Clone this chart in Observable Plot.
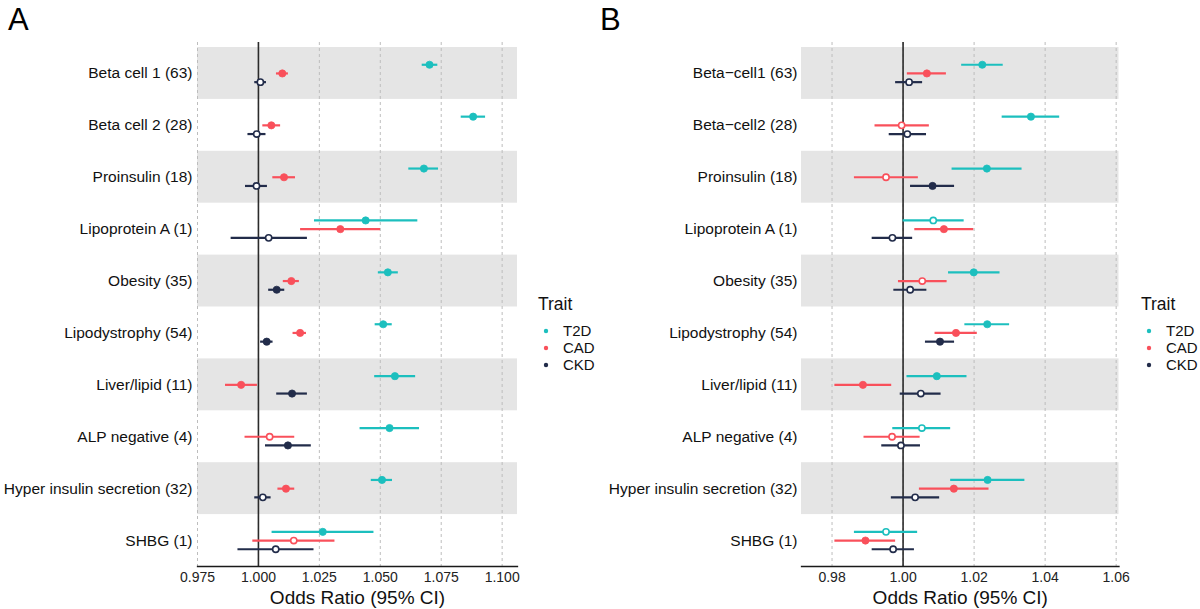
<!DOCTYPE html>
<html>
<head>
<meta charset="utf-8">
<script src="https://cdn.jsdelivr.net/npm/d3@7"></script>
<script src="https://cdn.jsdelivr.net/npm/@observablehq/plot@0.6"></script>
<style>
  html, body { margin: 0; padding: 0; background: #fff; }
  #root { position: relative; width: 1200px; height: 609px; overflow: hidden; font-family: "Liberation Sans", Arial, Helvetica, sans-serif; }
  .pane { position: absolute; top: 0; }
  .letter { position: absolute; font-size: 31px; color: #000; line-height: 1; }
</style>
</head>
<body>
<div id="root"></div>
<script>
// ---------------- data ----------------
const traits = ["T2D", "CAD", "CKD"];
const traitColors = ["#1CBFBE", "#F9505B", "#222C4A"];

const categoriesA = [
  "Beta cell 1 (63)", "Beta cell 2 (28)", "Proinsulin (18)", "Lipoprotein A (1)", "Obesity (35)",
  "Lipodystrophy (54)", "Liver/lipid (11)", "ALP negative (4)", "Hyper insulin secretion (32)", "SHBG (1)"
];
const categoriesB = [
  "Beta\u2212cell1 (63)", "Beta\u2212cell2 (28)", "Proinsulin (18)", "Lipoprotein A (1)", "Obesity (35)",
  "Lipodystrophy (54)", "Liver/lipid (11)", "ALP negative (4)", "Hyper insulin secretion (32)", "SHBG (1)"
];

const ticksA = [0.975, 1.000, 1.025, 1.050, 1.075, 1.100];
const ticksB = [0.98, 1.00, 1.02, 1.04, 1.06];

// [odds ratio, lower CI, upper CI, significant (1 = filled dot)]
const A_T2D = [
  [1.0702, 1.0672, 1.0736, 1], [1.0881, 1.0832, 1.0932, 1], [1.0679, 1.0617, 1.0739, 1],
  [1.0440, 1.0230, 1.0654, 1], [1.0531, 1.0492, 1.0574, 1], [1.0512, 1.0479, 1.0549, 1],
  [1.0560, 1.0477, 1.0645, 1], [1.0538, 1.0417, 1.0661, 1], [1.0507, 1.0463, 1.0550, 1],
  [1.0264, 1.0056, 1.0474, 1]
];
const A_CAD = [
  [1.0098, 1.0074, 1.0123, 1], [1.0053, 1.0018, 1.0091, 1], [1.0105, 1.0059, 1.0152, 1],
  [1.0336, 1.0173, 1.0501, 1], [1.0135, 1.0102, 1.0168, 1], [1.0171, 1.0142, 1.0197, 1],
  [0.9929, 0.9865, 0.9996, 1], [1.0046, 0.9945, 1.0149, 0], [1.0113, 1.0080, 1.0149, 1],
  [1.0145, 0.9977, 1.0314, 0]
];
const A_CKD = [
  [1.0008, 0.9985, 1.0033, 0], [0.9993, 0.9957, 1.0031, 0], [0.9992, 0.9947, 1.0037, 0],
  [1.0042, 0.9888, 1.0201, 0], [1.0075, 1.0042, 1.0108, 1], [1.0034, 1.0009, 1.0060, 1],
  [1.0138, 1.0075, 1.0201, 1], [1.0121, 1.0029, 1.0217, 1], [1.0018, 0.9985, 1.0052, 0],
  [1.0071, 0.9916, 1.0228, 0]
];

const B_T2D = [
  [1.0223, 1.0165, 1.0282, 1], [1.0360, 1.0279, 1.0441, 1], [1.0236, 1.0138, 1.0335, 1],
  [1.0085, 1.0000, 1.0172, 0], [1.0199, 1.0128, 1.0273, 1], [1.0237, 1.0174, 1.0300, 1],
  [1.0095, 1.0011, 1.0180, 1], [1.0053, 0.9971, 1.0134, 0], [1.0238, 1.0134, 1.0343, 1],
  [0.9952, 0.9863, 1.0041, 0]
];
const B_CAD = [
  [1.0067, 1.0012, 1.0122, 1], [0.9996, 0.9921, 1.0074, 0], [0.9952, 0.9863, 1.0043, 0],
  [1.0115, 1.0033, 1.0199, 1], [1.0054, 0.9987, 1.0124, 0], [1.0149, 1.0090, 1.0209, 1],
  [0.9887, 0.9808, 0.9968, 1], [0.9969, 0.9890, 1.0048, 0], [1.0143, 1.0046, 1.0242, 1],
  [0.9894, 0.9808, 0.9979, 1]
];
const B_CKD = [
  [1.0017, 0.9979, 1.0055, 0], [1.0012, 0.9961, 1.0066, 0], [1.0083, 1.0021, 1.0145, 1],
  [0.9970, 0.9913, 1.0027, 0], [1.0020, 0.9974, 1.0067, 0], [1.0104, 1.0063, 1.0145, 1],
  [1.0050, 0.9992, 1.0107, 0], [0.9994, 0.9940, 1.0049, 0], [1.0034, 0.9967, 1.0103, 0],
  [0.9972, 0.9913, 1.0032, 0]
];

const panelLetters = ["A", "B"];
const axisTitle = "Odds Ratio (95% CI)";
const legendTitle = "Trait";

// ---------------- drawing ----------------
const root = document.getElementById("root");
const FONT = '"Liberation Sans", Arial, Helvetica, sans-serif';
const offsets = [-8.7, 0, 8.7];

function panel(cats, series, ticks, fmt, domain, opts) {
  const rows = [];
  traits.forEach((t, ti) => series[ti].forEach((v, i) => rows.push({
    cat: cats[i], trait: t, ti, or: v[0], lo: v[1], hi: v[2], filled: v[3] === 1
  })));
  const marks = [
    Plot.barX(cats.filter((c, i) => i % 2 === 0), {x1: domain[0], x2: domain[1], y: d => d, fill: "#E5E5E5"}),
    Plot.ruleX(ticks, {stroke: "#BDBDBD", strokeWidth: 1, strokeDasharray: "3,3", insetTop: -5}),
    Plot.ruleX([1], {stroke: "#2b2b2b", strokeWidth: 1.6, insetTop: -5})
  ];
  traits.forEach((t, ti) => {
    const d = rows.filter(r => r.ti === ti);
    const c = traitColors[ti];
    marks.push(Plot.ruleY(d, {y: "cat", x1: "lo", x2: "hi", stroke: c, strokeWidth: 2.2, dy: offsets[ti]}));
    marks.push(Plot.dot(d.filter(r => r.filled), {x: "or", y: "cat", r: 3.6, fill: c, stroke: c, strokeWidth: 0.8, dy: offsets[ti]}));
    marks.push(Plot.dot(d.filter(r => !r.filled), {x: "or", y: "cat", r: 3.1, fill: "white", stroke: c, strokeWidth: 1.6, dy: offsets[ti]}));
  });
  marks.push(Plot.frame({anchor: "bottom", stroke: "#1a1a1a", strokeWidth: 1.3}));
  marks.push(Plot.axisY({tickSize: 0, tickPadding: opts.yPad, fontSize: 15.5, label: null, color: "#111"}));
  marks.push(Plot.axisX({ticks, tickFormat: fmt, tickSize: 0, tickPadding: 6, fontSize: 14, label: null, color: "#222"}));
  marks.push(Plot.text([axisTitle], {text: d => d, frameAnchor: "bottom", lineAnchor: "middle", dy: 31, fontSize: 19, fill: "#111"}));

  return Plot.plot({
    width: opts.width,
    height: 609,
    marginTop: 47,
    marginBottom: 43,
    marginLeft: opts.ml,
    marginRight: opts.mr,
    style: {fontFamily: FONT, background: "transparent", overflow: "visible"},
    x: {domain, label: null},
    y: {domain: cats, padding: 0, round: false, label: null},
    marks
  });
}

function legend(left) {
  const svg = d3.create("svg").attr("width", 80).attr("height", 95)
    .style("position", "absolute").style("left", left + "px").style("top", "282px")
    .style("font-family", FONT);
  svg.append("text").attr("x", 8).attr("y", 28).attr("font-size", 17.5).attr("fill", "#111").text(legendTitle);
  traits.forEach((t, i) => {
    const y = 49 + i * 17;
    svg.append("circle").attr("cx", 16).attr("cy", y).attr("r", 2.2).attr("fill", traitColors[i]);
    svg.append("text").attr("x", 33).attr("y", y).attr("dy", "0.36em").attr("font-size", 15).attr("fill", "#111").text(t);
  });
  return svg.node();
}

function letter(txt, left) {
  const d = document.createElement("div");
  d.className = "letter";
  d.style.left = left + "px";
  d.style.top = "4px";
  d.textContent = txt;
  return d;
}

const pA = panel(categoriesA, [A_T2D, A_CAD, A_CKD], ticksA, d3.format(".3f"), [0.975, 1.1063],
  {width: 520, ml: 197, mr: 3, yPad: 5});
const wrapA = document.createElement("div");
wrapA.className = "pane"; wrapA.style.left = "0px";
wrapA.appendChild(pA);
root.appendChild(wrapA);

const pB = panel(categoriesB, [B_T2D, B_CAD, B_CKD], ticksB, d3.format(".2f"), [0.9714, 1.0608],
  {width: 520, ml: 201, mr: 1.5, yPad: 4});
const wrapB = document.createElement("div");
wrapB.className = "pane"; wrapB.style.left = "600px";
wrapB.appendChild(pB);
root.appendChild(wrapB);

root.appendChild(legend(530));
root.appendChild(legend(1133));
root.appendChild(letter(panelLetters[0], 8));
root.appendChild(letter(panelLetters[1], 600));
</script>
</body>
</html>
